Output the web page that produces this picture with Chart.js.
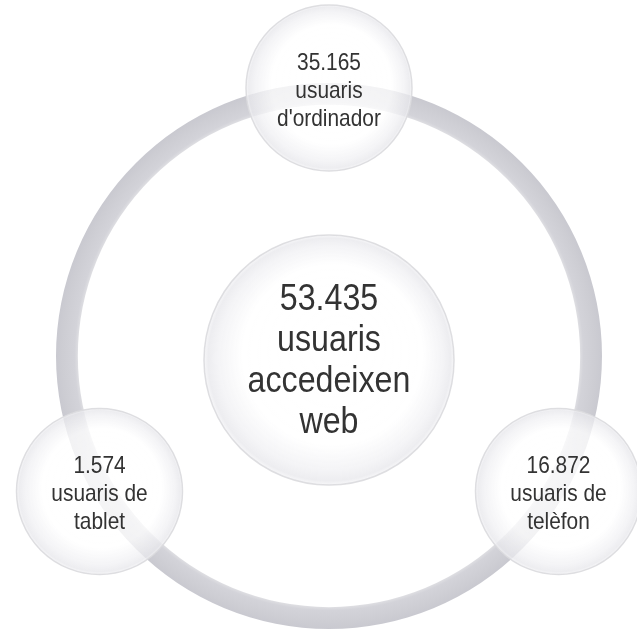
<!DOCTYPE html>
<html><head><meta charset="utf-8">
<script src="https://cdn.jsdelivr.net/npm/chart.js@4.4.1/dist/chart.umd.min.js"></script>
<style>
html,body{margin:0;padding:0;background:#fff;}
#wrap{position:relative;width:637px;height:631px;overflow:hidden;}
canvas{position:absolute;left:0;top:0;}
</style></head><body>
<div id="wrap"><canvas id="ring" width="637" height="631"></canvas><canvas id="bubbles" width="637" height="631"></canvas></div>
<script>
// ---- data ----
const totalValue = 53435;
const totalLabel = ['usuaris', 'accedeixen', 'web'];
const deviceValues = [35165, 16872, 1574];
const deviceLabels = [['usuaris', "d'ordinador"], ['usuaris de', 'telèfon'], ['usuaris de', 'tablet']];

// ---- layout / style ----
const FONT = '"Liberation Sans", Arial, sans-serif';
const NARROW = 0.87;
const W = 637, H = 631;
const UX = 265, UY = 269;   // px per layout unit
const CX = 329, CY = 357;   // layout centre in px
const deviceAngles = [90, -30, 210];
const centreOffsetY = -3 / UY;

function fmt(n) { return String(n).replace(/\B(?=(\d{3})+(?!\d))/g, '.'); }

// ring (doughnut)
function ringColor(ctx) {
  const ch = ctx.chart, a = ch.chartArea;
  if (!a) return '#cfcfd5';
  const cx = (a.left + a.right) / 2, cy = (a.top + a.bottom) / 2;
  const outer = Math.min(a.width, a.height) / 2;
  const inner = outer * 0.92;
  const g = ch.ctx.createRadialGradient(cx, cy, inner, cx, cy, outer);
  g.addColorStop(0, '#dedee2');
  g.addColorStop(0.15, '#d3d3d9');
  g.addColorStop(0.7, '#cdcdd3');
  g.addColorStop(1, '#c9c9d0');
  return g;
}

new Chart(document.getElementById('ring'), {
  type: 'doughnut',
  data: { labels: ['total'], datasets: [{ data: [totalValue], backgroundColor: ringColor, borderWidth: 0 }] },
  options: {
    responsive: false, animation: false, events: [],
    cutout: '92%',
    layout: { padding: { left: 56, right: 35, top: 83, bottom: 2 } },
    plugins: { legend: { display: false }, tooltip: { enabled: false } }
  }
});

// circles (bubble)
function circleFill(ctx) {
  const ch = ctx.chart;
  const xs = ch.scales.x, ys = ch.scales.y;
  if (!xs || !ys || !ctx.raw) return 'rgba(255,255,255,0.7)';
  const x = xs.getPixelForValue(ctx.raw.x), y = ys.getPixelForValue(ctx.raw.y);
  const r = ctx.dataset.radius;
  if (!isFinite(x) || !isFinite(y)) return 'rgba(255,255,255,0.7)';
  const g = ch.ctx.createRadialGradient(x + r * 0.1, y - r * 0.15, 0, x, y, r);
  g.addColorStop(0, 'rgba(255,255,255,0.8)');
  g.addColorStop(0.72, 'rgba(255,255,255,0.76)');
  g.addColorStop(0.9, 'rgba(240,240,243,0.74)');
  g.addColorStop(0.97, 'rgba(232,232,236,0.78)');
  g.addColorStop(1, 'rgba(246,246,248,0.85)');
  return g;
}

const devicePoints = deviceValues.map((v, i) => ({
  x: Math.cos(deviceAngles[i] * Math.PI / 180),
  y: Math.sin(deviceAngles[i] * Math.PI / 180),
  value: v, lines: deviceLabels[i]
}));

const textPlugin = {
  id: 'circleText',
  afterDatasetsDraw(chart) {
    const c = chart.ctx;
    chart.data.datasets.forEach((ds, di) => {
      const meta = chart.getDatasetMeta(di);
      meta.data.forEach((el, i) => {
        const raw = ds.data[i];
        const lines = [fmt(raw.value)].concat(raw.lines);
        const size = ds.textSize, lh = ds.lineHeight;
        c.save();
        c.fillStyle = '#333333';
        c.font = size + 'px ' + FONT;
        c.textAlign = 'center';
        c.textBaseline = 'middle';
        c.translate(el.x, 0);
        c.scale(NARROW, 1);
        const y0 = el.y - (lines.length - 1) * lh / 2 + ds.textShift;
        lines.forEach((t, k) => c.fillText(t, 0, y0 + k * lh));
        c.restore();
      });
    });
  }
};

new Chart(document.getElementById('bubbles'), {
  type: 'bubble',
  data: {
    datasets: [
      { label: 'total', data: [{ x: 0, y: centreOffsetY, value: totalValue, lines: totalLabel }],
        radius: 125, textSize: 37, lineHeight: 41, textShift: 1,
        backgroundColor: circleFill, borderColor: 'rgba(218,218,222,0.9)', borderWidth: 1.5, clip: false },
      { label: 'dispositius', data: devicePoints,
        radius: 83, textSize: 24, lineHeight: 28, textShift: 3,
        backgroundColor: circleFill, borderColor: 'rgba(218,218,222,0.9)', borderWidth: 1.5, clip: false }
    ]
  },
  options: {
    responsive: false, animation: false, events: [],
    layout: { padding: 0, autoPadding: false },
    scales: {
      x: { type: 'linear', display: false, min: -CX / UX, max: (W - CX) / UX },
      y: { type: 'linear', display: false, min: -(H - CY) / UY, max: CY / UY }
    },
    plugins: { legend: { display: false }, tooltip: { enabled: false } }
  },
  plugins: [textPlugin]
});
</script>
</body></html>
